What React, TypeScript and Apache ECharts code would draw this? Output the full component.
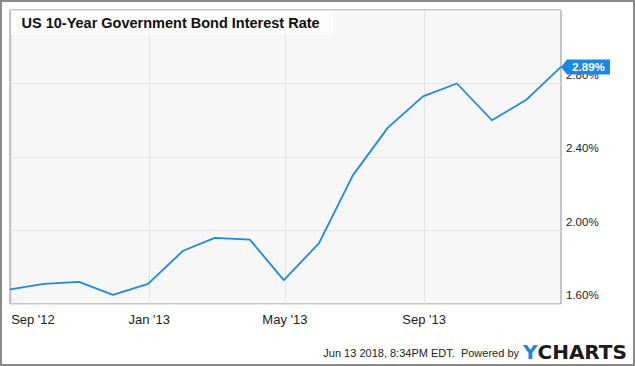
import React, { useEffect, useRef } from "react";
import * as echarts from "echarts";

const dates = [
  "2012-08-31", "2012-09-30", "2012-10-31", "2012-11-30", "2012-12-31",
  "2013-01-31", "2013-02-28", "2013-03-31", "2013-04-30", "2013-05-31",
  "2013-06-30", "2013-07-31", "2013-08-31", "2013-09-30", "2013-10-31",
  "2013-11-30", "2013-12-31",
];
const rates = [
  1.68, 1.71, 1.72, 1.65, 1.71,
  1.89, 1.96, 1.95, 1.73, 1.93,
  2.30, 2.56, 2.73, 2.80, 2.60,
  2.71, 2.89,
];
const xTickDates = ["2012-09-01", "2013-01-01", "2013-05-01", "2013-09-01"];
const yTicks = [1.6, 2.0, 2.4, 2.8, 3.2];
const monthNames = ["Jan", "Feb", "Mar", "Apr", "May", "Jun", "Jul", "Aug", "Sep", "Oct", "Nov", "Dec"];
const titleText = "US 10-Year Government Bond Interest Rate";
const footerText = "Jun 13 2018, 8:34PM EDT.  Powered by";

function ts(s: string): number {
  const [y, m, d] = s.split("-").map(Number);
  return Date.UTC(y, m - 1, d);
}

export default function App() {
  const ref = useRef<HTMLDivElement>(null);
  useEffect(() => {
    if (!ref.current) return;
    const chart = echarts.init(ref.current, undefined, { renderer: "svg" });
    const font = "'Liberation Sans', Arial, sans-serif";
    const data = dates.map((d, i) => [ts(d), rates[i]]);
    const last = data[data.length - 1];
    const xTicks = xTickDates.map(ts);
    chart.setOption({
      animation: false,
      backgroundColor: "#ffffff",
      grid: {
        left: 10,
        top: 10,
        right: 74,
        bottom: 62,
        show: true,
        backgroundColor: "#f7f7f7",
        borderColor: "#8f8f8f",
        borderWidth: 1,
      },
      xAxis: {
        type: "value",
        min: ts(dates[0]),
        max: ts(dates[dates.length - 1]),
        axisLine: { show: false },
        axisTick: { show: false, customValues: xTicks },
        splitLine: { show: true, lineStyle: { color: "#e4e4e4", width: 1 } },
        axisLabel: {
          customValues: xTicks,
          formatter: (v: number) => {
            const d = new Date(v);
            return monthNames[d.getUTCMonth()] + " '" + String(d.getUTCFullYear()).slice(2);
          },
          alignMinLabel: "left",
          color: "#222",
          fontSize: 13,
          fontFamily: font,
          margin: 9,
        },
      },
      yAxis: {
        type: "value",
        position: "right",
        min: yTicks[0],
        max: yTicks[yTicks.length - 1],
        interval: 0.4,
        axisLine: { show: false },
        axisTick: { show: false },
        splitLine: { show: true, lineStyle: { color: "#e4e4e4", width: 1 } },
        axisLabel: {
          showMaxLabel: false,
          formatter: (v: number) => v.toFixed(2) + "%",
          color: "#222",
          fontSize: 11.5,
          fontFamily: font,
          margin: 5,
          align: "left",
          verticalAlign: "bottom",
          padding: [0, 0, 3, 0],
        },
      },
      series: [
        {
          type: "line",
          data,
          showSymbol: false,
          lineStyle: { color: "#1f88e5", width: 1.8 },
          itemStyle: { color: "#1f88e5" },
          markPoint: {
            silent: true,
            symbol: "path://M0,7.5 L6,0 L49,0 L49,15 L6,15 Z",
            symbolSize: [49, 15],
            symbolOffset: [24.5, 0],
            symbolKeepAspect: false,
            itemStyle: { color: "#1a87e4" },
            label: {
              show: true,
              position: "inside",
              offset: [3, 0],
              color: "#ffffff",
              fontWeight: "bold",
              fontSize: 11.5,
              fontFamily: font,
              formatter: () => last[1].toFixed(2) + "%",
            },
            data: [{ coord: last, value: last[1] }],
          },
        },
      ],
      graphic: [
        {
          type: "rect",
          z: 100,
          shape: { x: 1, y: 1, width: 633, height: 364 },
          style: { fill: "none", stroke: "#8a8a8a", lineWidth: 2 },
        },
        {
          type: "rect",
          z: 100,
          shape: { x: 11, y: 11, width: 322, height: 24 },
          style: { fill: "#fcfcfc" },
        },
        {
          type: "text",
          z: 101,
          x: 21.5,
          y: 23,
          style: {
            text: titleText,
            fill: "#111",
            font: `bold 14.5px ${font}`,
            verticalAlign: "middle",
          },
        },
        {
          type: "text",
          z: 101,
          x: 519,
          y: 353,
          style: {
            text: footerText,
            fill: "#222",
            font: `11px ${font}`,
            align: "right",
            verticalAlign: "middle",
          },
        },
        {
          type: "text",
          z: 101,
          x: 523,
          y: 352,
          style: {
            rich: {
              y: { fill: "#1a87e4", font: `900 20px 'DejaVu Sans', ${font}` },
              c: { fill: "#1b1b1b", font: `900 20px 'DejaVu Sans', ${font}` },
            },
            text: "{y|Y}{c|CHARTS}",
            verticalAlign: "middle",
          },
        },
      ],
    });
    return () => chart.dispose();
  }, []);
  return (
    <div
      ref={ref}
      style={{ position: "fixed", left: 0, top: 0, width: 635, height: 366 }}
    />
  );
}
